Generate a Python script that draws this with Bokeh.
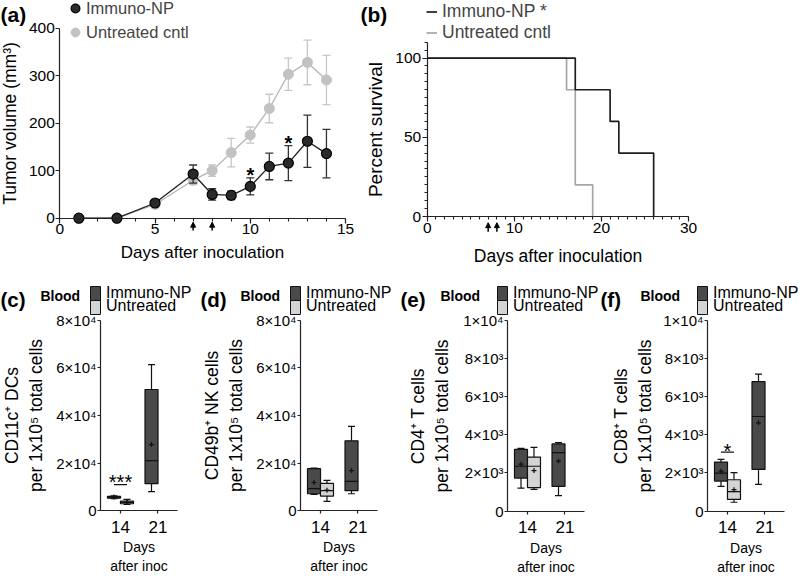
import numpy as np
from bokeh.plotting import figure
from bokeh.layouts import column, row
from bokeh.models import (Range1d, FixedTicker, SingleIntervalTicker, Legend, LegendItem,
                          Label, Arrow, NormalHead, BoxAnnotation)
from bokeh.core.properties import value
from bokeh.embed import file_html
from bokeh.resources import INLINE

FONT = "Liberation Sans"
BLACK = "#1e1e1e"
BLACK_FILL = "#2a2a2a"
GRAY_LINE = "#b4b4b4"
GRAY_FILL = "#c2c2c2"
GRAY_ERR = "#c6c6c6"
DARK_BOX = "#4a4a4a"
LIGHT_BOX = "#d4d4d4"
AXIS = "#222222"

# ---------------- Panel (a): tumour growth ----------------
days_a = [1, 3, 5, 7, 8, 9, 10, 11, 12, 13, 14]
immuno_vol = [0, 0, 32, 93, 50, 48, 67, 109, 116, 162, 136]
immuno_sem = [0, 0, 7, 19, 12, 9, 18, 28, 37, 55, 51]
untreated_vol = [0, 0, 29, 80, 100, 138, 175, 231, 303, 328, 291]
untreated_sem = [0, 0, 7, 9, 12, 30, 17, 30, 34, 47, 52]
sig_days_a = [10, 12]
treat_days = [7, 8]

# ---------------- Panel (b): survival ----------------
surv_immuno_t = [0, 17, 21, 22, 26]
surv_immuno_p = [100, 80, 60, 40, 0]
surv_untr_t = [0, 16, 17, 19]
surv_untr_p = [100, 80, 20, 0]

# ---------------- Panels (c)-(f): box plots ----------------
# order: Immuno-NP day 14, Untreated day 14, Immuno-NP day 21
box_days = ["14", "14", "21"]
box_series = ["Immuno-NP", "Untreated", "Immuno-NP"]

dc_lo = [5100, 2700, 8100]
dc_q1 = [5300, 3000, 11400]
dc_med = [5800, 3600, 21100]
dc_q3 = [6100, 4100, 50900]
dc_hi = [6300, 4800, 61300]
dc_mean = [5800, 3600, 27800]

nk_lo = [6900, 4000, 7200]
nk_q1 = [7200, 6200, 8500]
nk_med = [9300, 8500, 12400]
nk_q3 = [17700, 11500, 29400]
nk_hi = [17900, 12800, 35400]
nk_mean = [11900, 8700, 16900]

cd4_lo = [1200, 1130, 810]
cd4_q1 = [1730, 1230, 1290]
cd4_med = [2350, 2350, 3060]
cd4_q3 = [3230, 2830, 3520]
cd4_hi = [3290, 3340, 3590]
cd4_mean = [2460, 2120, 2620]

cd8_lo = [1290, 460, 1400]
cd8_q1 = [1570, 610, 2180]
cd8_med = [1990, 1020, 4960]
cd8_q3 = [2570, 1640, 6790]
cd8_hi = [2710, 2010, 7190]
cd8_mean = [2090, 1120, 4630]

ticks_4 = [0, 20000, 40000, 60000, 80000]
tick_labels_4 = ["0", "2×10⁴", "4×10⁴", "6×10⁴", "8×10⁴"]
ticks_3 = [0, 2000, 4000, 6000, 8000, 10000]
tick_labels_3 = ["0", "2×10³", "4×10³", "6×10³", "8×10³", "1×10⁴"]
day_labels = ["14", "21"]


def panel_fig(w, h, xr, yr, ml, mr, mt, mb):
    """Figure whose frame fills the canvas; the data area (xr, yr) sits inside the
    given insets and the axes are pinned to its left/bottom edges."""
    kx = (xr[1] - xr[0]) / (w - ml - mr)
    ky = (yr[1] - yr[0]) / (h - mt - mb)
    p = figure(width=w, height=h,
               x_range=Range1d(xr[0] - ml * kx, xr[1] + mr * kx),
               y_range=Range1d(yr[0] - mb * ky, yr[1] + mt * ky),
               output_backend="svg", toolbar_location=None,
               min_border_left=0, min_border_right=0, min_border_top=0, min_border_bottom=0)
    p.grid.grid_line_color = None
    p.outline_line_color = None
    p.background_fill_color = "white"
    p.border_fill_color = "white"
    p.xaxis.fixed_location = yr[0]
    p.yaxis.fixed_location = xr[0]
    p.xaxis.bounds = tuple(xr)
    p.yaxis.bounds = tuple(yr)
    for ax in p.axis:
        ax.axis_line_color = AXIS
        ax.axis_line_width = 1.2
        ax.major_tick_line_color = AXIS
        ax.minor_tick_line_color = AXIS
        ax.major_tick_line_width = 1.2
        ax.minor_tick_line_width = 1.1
        ax.major_tick_in = 0
        ax.minor_tick_in = 0
        ax.major_label_text_font = FONT
        ax.axis_label_text_font = FONT
        ax.axis_label_text_font_style = "normal"
        ax.major_label_text_color = "black"
        ax.axis_label_text_color = "black"
    return p


def errbars(p, x, m, e, color, cap):
    x = np.asarray(x, float); m = np.asarray(m, float); e = np.asarray(e, float)
    k = e > 0
    p.segment(x[k], (m - e)[k], x[k], (m + e)[k], line_color=color, line_width=1.3)
    p.segment((x - cap)[k], (m + e)[k], (x + cap)[k], (m + e)[k], line_color=color, line_width=1.3)
    p.segment((x - cap)[k], (m - e)[k], (x + cap)[k], (m - e)[k], line_color=color, line_width=1.3)


def text_label(p, h, x, y_from_top, text, size, bold=False):
    p.add_layout(Label(x=x, y=h - y_from_top, x_units="screen", y_units="screen", text=text,
                       text_font=FONT, text_font_style="bold" if bold else "normal",
                       text_font_size=size, text_baseline="middle", text_align="left",
                       text_color="black"))


# ======================= (a) =======================
WA, HA = 358, 270
pa = panel_fig(WA, HA, (0, 15), (0, 400), 59.3, 13, 27.7, 52.3)
pa.xaxis.ticker = SingleIntervalTicker(interval=5, num_minor_ticks=5)
pa.yaxis.ticker = SingleIntervalTicker(interval=100, num_minor_ticks=0)
pa.xaxis.major_tick_out = 5
pa.xaxis.minor_tick_out = 3
pa.yaxis.major_tick_out = 4
pa.xaxis.major_label_standoff = 1
pa.yaxis.major_label_standoff = 1
pa.xaxis.major_label_text_font_size = "15.5px"
pa.yaxis.major_label_text_font_size = "15.5px"
pa.xaxis.axis_label = "Days after inoculation"
pa.xaxis.axis_label_text_font_size = "17px"
pa.xaxis.axis_label_standoff = 5
pa.yaxis.axis_label = "Tumor volume (mm³)"
pa.yaxis.axis_label_text_font_size = "17.5px"
pa.yaxis.axis_label_standoff = 6

errbars(pa, days_a, untreated_vol, untreated_sem, GRAY_ERR, 0.21)
pa.line(days_a, untreated_vol, line_color=GRAY_LINE, line_width=1.3)
sc_g = pa.scatter(days_a, untreated_vol, size=10, fill_color=GRAY_FILL, line_color=GRAY_FILL)
errbars(pa, days_a, immuno_vol, immuno_sem, "#333333", 0.21)
pa.line(days_a, immuno_vol, line_color=BLACK, line_width=1.3)
sc_b = pa.scatter(days_a, immuno_vol, size=10, fill_color=BLACK_FILL, line_color="black",
                  line_width=1.2)

star_y = [immuno_vol[days_a.index(d)] + immuno_sem[days_a.index(d)] for d in sig_days_a]
pa.text(x=sig_days_a, y=star_y, text=["*"] * len(sig_days_a), text_align="center",
        text_baseline="middle", y_offset=-3, text_font=value(FONT), text_font_size="20px",
        text_font_style="bold", text_color="black")

for d in treat_days:
    pa.add_layout(Arrow(end=NormalHead(size=5, fill_color="black", line_color="black"),
                        x_start=d, y_start=-26, x_end=d, y_end=-8.4,
                        line_color="black", line_width=1.5))

pa.add_layout(Legend(items=[LegendItem(label="Immuno-NP", renderers=[sc_b]),
                            LegendItem(label="Untreated cntl", renderers=[sc_g])],
                     location=(64, 225.7), glyph_width=22, glyph_height=24, label_height=24,
                     spacing=0, padding=0, margin=0, label_standoff=0, border_line_color=None,
                     background_fill_alpha=0, label_text_font=FONT,
                     label_text_font_size="16.5px"))
text_label(pa, HA, 0, 14, "(a)", "21px", bold=True)

# ======================= (b) =======================
WB, HB = 442, 270
pb = panel_fig(WB, HB, (0, 30), (0, 110), 68.7, 112, 41.7, 54)
pb.xaxis.ticker = SingleIntervalTicker(interval=10, num_minor_ticks=10)
pb.yaxis.ticker = SingleIntervalTicker(interval=50, num_minor_ticks=10)
pb.xaxis.major_tick_out = 5
pb.xaxis.minor_tick_out = 3
pb.yaxis.major_tick_out = 5
pb.yaxis.minor_tick_out = 3
pb.xaxis.major_label_standoff = 1
pb.yaxis.major_label_standoff = 1
pb.xaxis.major_label_text_font_size = "15.5px"
pb.yaxis.major_label_text_font_size = "15.5px"
pb.xaxis.axis_label = "Days after inoculation"
pb.xaxis.axis_label_text_font_size = "17.5px"
pb.xaxis.axis_label_standoff = 10
pb.yaxis.axis_label = "Percent survival"
pb.yaxis.axis_label_text_font_size = "19px"
pb.yaxis.axis_label_standoff = 7

rb_g = pb.step(surv_untr_t, surv_untr_p, mode="after", line_color="#a6a6a6", line_width=1.7)
rb_b = pb.step(surv_immuno_t, surv_immuno_p, mode="after", line_color=BLACK, line_width=1.7)

for d in treat_days:
    pb.add_layout(Arrow(end=NormalHead(size=5, fill_color="black", line_color="black"),
                        x_start=d, y_start=-9.7, x_end=d, y_end=-3.9,
                        line_color="black", line_width=1.5))

pb.add_layout(Legend(items=[LegendItem(label="Immuno-NP *", renderers=[rb_b]),
                            LegendItem(label="Untreated cntl", renderers=[rb_g])],
                     location=(68, 226.8), glyph_width=11, glyph_height=21, label_height=21,
                     spacing=0, padding=0, margin=0, label_standoff=5, border_line_color=None,
                     background_fill_alpha=0, label_text_font=FONT,
                     label_text_font_size="17.5px"))
text_label(pb, HB, 2, 14, "(b)", "21px", bold=True)

# ======================= (c)-(f) =======================
WC, HC = 200, 306
DODGE = 0.173
BOXW = 0.347
CAP = 0.093
day_pos = {d: i + 1 for i, d in enumerate(day_labels)}


def box_panel(letter, ylabel, lo, q1, med, q3, hi, mean, ymax, yticks, ylabels,
              ml, mr, mt, mb, ylab_standoff, sig=None):
    p = panel_fig(WC, HC, (0.467, 2.52), (0, ymax), ml, mr, mt, mb)
    p.xaxis.ticker = FixedTicker(ticks=[day_pos[d] for d in day_labels])
    p.xaxis.major_label_overrides = {day_pos[d]: d for d in day_labels}
    p.yaxis.ticker = FixedTicker(ticks=yticks)
    p.yaxis.major_label_overrides = {t: l for t, l in zip(yticks, ylabels)}
    p.xaxis.major_tick_out = 3
    p.yaxis.major_tick_out = 3
    p.xaxis.major_label_standoff = 7
    p.yaxis.major_label_standoff = 1
    p.xaxis.major_label_text_font_size = "17px"
    p.yaxis.major_label_text_font_size = "15px"
    p.xaxis.axis_label = "Days\nafter inoc"
    p.xaxis.axis_label_text_font_size = "14px"
    p.xaxis.axis_label_standoff = 3
    p.yaxis.axis_label = ylabel
    p.yaxis.axis_label_text_font_size = "17.5px"
    p.yaxis.axis_label_standoff = ylab_standoff

    xs = np.array([day_pos[d] + (-DODGE if s == "Immuno-NP" else DODGE)
                   for d, s in zip(box_days, box_series)])
    fills = [DARK_BOX if s == "Immuno-NP" else LIGHT_BOX for s in box_series]
    p.segment(xs, q3, xs, hi, line_color="#111111", line_width=1.2)
    p.segment(xs, lo, xs, q1, line_color="#111111", line_width=1.2)
    p.segment(xs - CAP, hi, xs + CAP, hi, line_color="#111111", line_width=1.2)
    p.segment(xs - CAP, lo, xs + CAP, lo, line_color="#111111", line_width=1.2)
    p.vbar(x=xs, width=BOXW, bottom=q1, top=q3, fill_color=fills,
           line_color="#111111", line_width=1.2)
    p.segment(xs - BOXW / 2, med, xs + BOXW / 2, med, line_color="#111111", line_width=1.2)
    p.scatter(xs, mean, marker="cross", size=5, line_color="#111111", line_width=1.2)

    if sig is not None:
        text, ybar, yoff = sig
        p.segment([xs[0]], [ybar], [xs[1]], [ybar], line_color="#111111", line_width=1.2)
        p.text(x=[(xs[0] + xs[1]) / 2], y=[ybar], text=[text], text_align="center",
               text_baseline="middle", y_offset=yoff, text_font=value(FONT),
               text_font_size="20px", text_color="black")

    text_label(p, HC, 0, 29, letter, "20.5px", bold=True)
    text_label(p, HC, 40, 25, "Blood", "14px", bold=True)
    p.add_layout(BoxAnnotation(left=ml - 10, right=ml, top=HC - 16, bottom=HC - 30,
                               left_units="screen", right_units="screen",
                               top_units="screen", bottom_units="screen",
                               fill_color=DARK_BOX, fill_alpha=1,
                               line_color="#111111", line_alpha=1, line_width=1))
    p.add_layout(BoxAnnotation(left=ml - 10, right=ml, top=HC - 30, bottom=HC - 44,
                               left_units="screen", right_units="screen",
                               top_units="screen", bottom_units="screen",
                               fill_color=LIGHT_BOX, fill_alpha=1,
                               line_color="#111111", line_alpha=1, line_width=1))
    text_label(p, HC, ml + 5.5, 21.5, "Immuno-NP", "16px")
    text_label(p, HC, ml + 5.5, 34.5, "Untreated", "16px")
    return p


pc = box_panel("(c)", "CD11c⁺ DCs\nper 1x10⁵ total cells", dc_lo, dc_q1, dc_med, dc_q3,
               dc_hi, dc_mean, 80000, ticks_4, tick_labels_4, 100, 23, 49.6, 65.6, 7,
               sig=("***", 11000, -3))
pd_ = box_panel("(d)", "CD49b⁺ NK cells\nper 1x10⁵ total cells", nk_lo, nk_q1, nk_med, nk_q3,
                nk_hi, nk_mean, 80000, ticks_4, tick_labels_4, 100, 23, 49.6, 65.6, 7)
pe = box_panel("(e)", "CD4⁺ T cells\nper 1x10⁵ total cells", cd4_lo, cd4_q1, cd4_med, cd4_q3,
               cd4_hi, cd4_mean, 10000, ticks_3, tick_labels_3, 107, 16, 50, 65.5, 8)
pf = box_panel("(f)", "CD8⁺ T cells\nper 1x10⁵ total cells", cd8_lo, cd8_q1, cd8_med, cd8_q3,
               cd8_hi, cd8_mean, 10000, ticks_3, tick_labels_3, 107, 16, 50, 65.5, 5,
               sig=("*", 3090, -1))

layout = column(row(pa, pb), row(pc, pd_, pe, pf))
open("out.html", "w").write(file_html(layout, INLINE))
